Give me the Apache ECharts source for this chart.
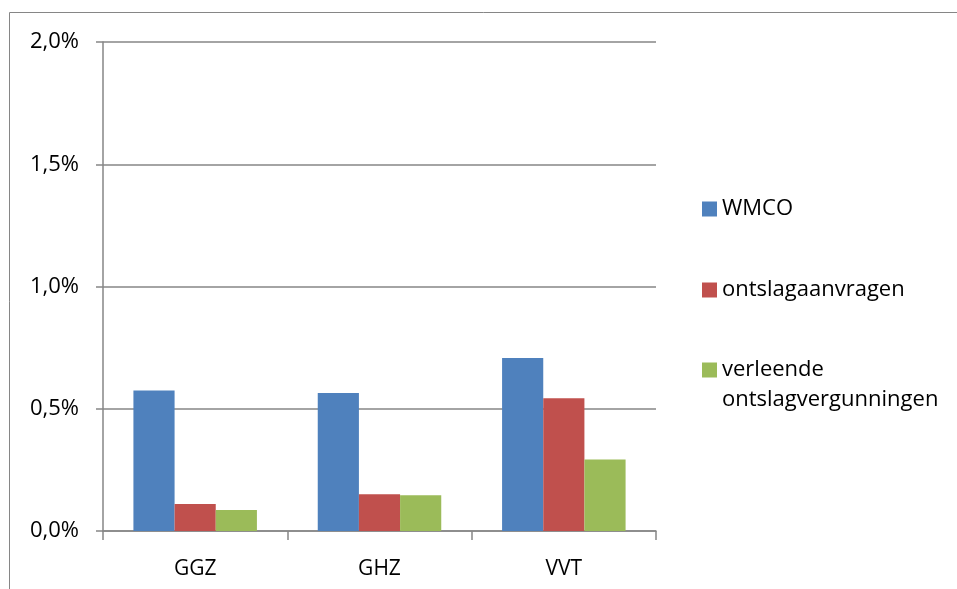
<!DOCTYPE html>
<html>
<head>
<meta charset="utf-8">
<script src="https://cdn.jsdelivr.net/npm/echarts@6/dist/echarts.min.js"></script>
<style>
  html, body { margin: 0; padding: 0; background: #fff; }
  #chart { width: 957px; height: 589px; }
</style>
</head>
<body>
<div id="chart"></div>
<script>
// sectoren en percentages (in %)
const categories = ['GGZ', 'GHZ', 'VVT']
const wmco = [0.575, 0.564, 0.708]
const ontslagaanvragen = [0.110, 0.150, 0.543]
const vergunningen = [0.086, 0.146, 0.292]
const yTicks = [0, 0.5, 1.0, 1.5, 2.0]

const seriesNames = ['WMCO', 'ontslagaanvragen', 'verleende\nontslagvergunningen']
const seriesColors = ['#4F81BD', '#C0504D', '#9BBB59']
const seriesData = [wmco, ontslagaanvragen, vergunningen]

const FONT = '"Open Sans", sans-serif'
const FONT_SIZE = 21
const AXIS_GRAY = '#868686'

const chart = echarts.init(document.getElementById('chart'))

// één legenda per reeks; bij de tweeregelige tekst een lege regel ervoor,
// zodat het blokje op hoogte van de eerste regel staat
const legendTops = [189, 270, 320]
const legends = seriesNames.map((name, i) => ({
  data: [name],
  orient: 'vertical',
  left: 697,
  top: legendTops[i],
  icon: 'rect',
  itemWidth: 15,
  itemHeight: 15,
  itemGap: 0,
  selectedMode: false,
  formatter: n => (n.includes('\n') ? ' \n' + n : n),
  textStyle: {
    fontFamily: FONT,
    fontSize: 22,
    color: '#000',
    lineHeight: 30
  }
}))

const option = {
  animation: false,
  textStyle: { fontFamily: FONT },
  graphic: [{
    type: 'rect',
    shape: { x: 9.5, y: 12.5, width: 1200, height: 1200 },
    style: { fill: 'none', stroke: AXIS_GRAY, lineWidth: 1 },
    silent: true,
    z: -1
  }],
  legend: legends,
  grid: { left: 103, right: 301, top: 42, bottom: 58 },
  xAxis: {
    type: 'category',
    data: categories,
    axisLine: { lineStyle: { color: AXIS_GRAY, width: 1.5 } },
    axisTick: { show: true, length: 9, lineStyle: { color: AXIS_GRAY, width: 1.5 } },
    axisLabel: { color: '#000', fontSize: FONT_SIZE, fontFamily: FONT, margin: 28 }
  },
  yAxis: {
    type: 'value',
    min: 0,
    max: 2,
    interval: 0.5,
    axisLine: { show: true, lineStyle: { color: AXIS_GRAY, width: 1.5 } },
    axisTick: { show: true, length: 7, lineStyle: { color: AXIS_GRAY, width: 1.5 } },
    splitLine: { lineStyle: { color: AXIS_GRAY, width: 1.5 } },
    axisLabel: {
      color: '#000',
      fontSize: 22,
      fontFamily: FONT,
      margin: 24,
      formatter: v => yTicks.includes(v) ? v.toFixed(1).replace('.', ',') + '%' : ''
    }
  },
  series: seriesNames.map((name, i) => ({
    name,
    type: 'bar',
    data: seriesData[i],
    barGap: '0%',
    barCategoryGap: '33%',
    itemStyle: { color: seriesColors[i] }
  }))
}

chart.setOption(option)
</script>
</body>
</html>
